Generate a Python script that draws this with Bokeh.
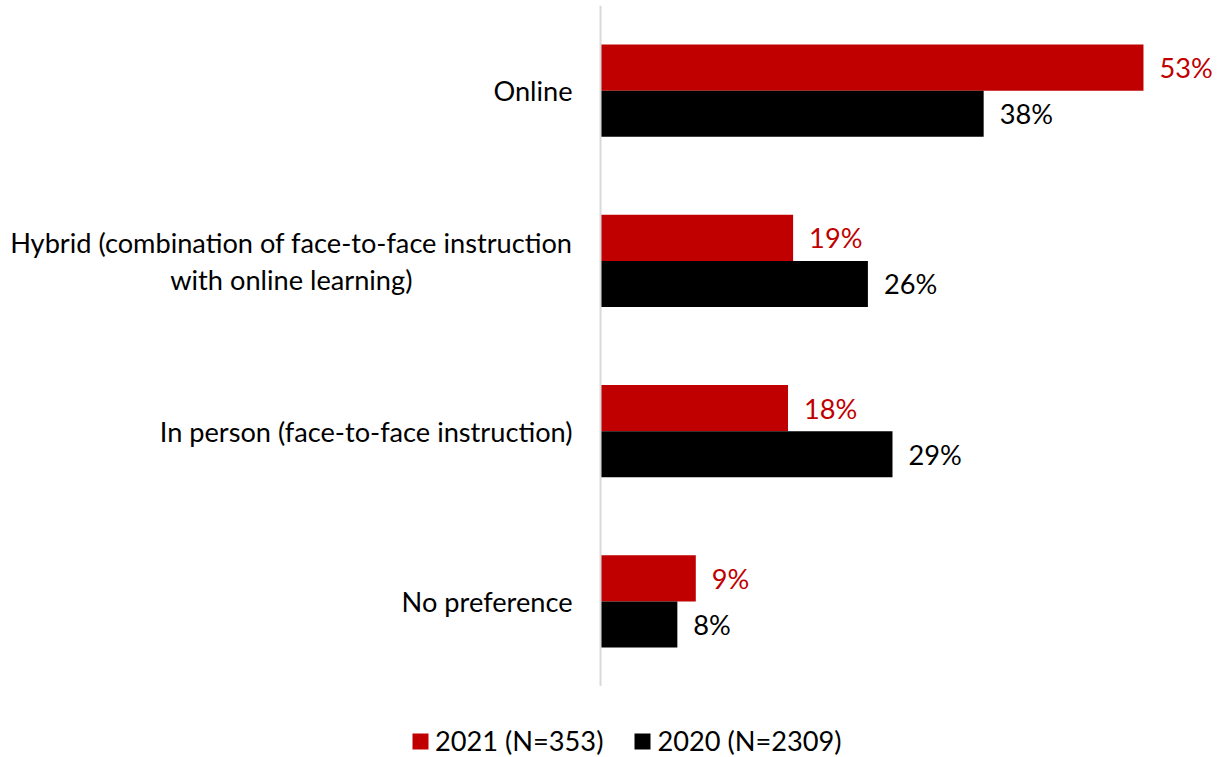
from bokeh.plotting import figure
from bokeh.layouts import column
from bokeh.models import ColumnDataSource, FactorRange, Range1d, Legend, LegendItem, Span
from bokeh.transform import dodge
from bokeh.core.properties import value
from bokeh.embed import file_html
from bokeh.resources import INLINE

# ---- data ----
NBSP = "\u00a0"
categories = ["Online",
              "Hybrid (combination of face-to-face instruction\nwith online learning)" + NBSP * 23,
              "In person (face-to-face instruction)",
              "No preference"]
values_2021 = [53.0, 18.8, 18.3, 9.3]
values_2020 = [37.4, 26.1, 28.5, 7.5]
labels_2021 = ["53%", "19%", "18%", "9%"]
labels_2020 = ["38%", "26%", "29%", "8%"]
series_names = ["2021 (N=353)", "2020 (N=2309)"]

RED = "#C00000"
BLACK = "#000000"
FONT = "Lato"
FS = "27.2px"

src = ColumnDataSource(dict(cat=categories, v21=values_2021, v20=values_2020,
                            l21=labels_2021, l20=labels_2020,
                            zero=[0] * len(categories)))

p = figure(width=1215, height=686, output_backend="svg", toolbar_location=None,
           y_range=FactorRange(*categories[::-1], range_padding=0),
           x_range=Range1d(-58.57, 60.03),
           min_border_left=0, min_border_right=0, min_border_top=5, min_border_bottom=0)
p.outline_line_color = None
p.grid.visible = False
p.axis.visible = False
p.background_fill_color = "white"
p.border_fill_color = "white"

# vertical axis line at 0
p.add_layout(Span(location=0, dimension="height", line_color="#d9d9d9", line_width=2))

# category labels
p.text(x="zero", y="cat", text="cat", source=src, x_offset=-28,
       text_align="right", text_baseline="middle", text_line_height=1.13,
       text_font=value(FONT), text_font_size=FS, text_color="#000000")

H = 0.2714
OFF = H / 2
r21 = p.hbar(y=dodge("cat", OFF, range=p.y_range), right="v21", left=0, height=H,
             source=src, fill_color=RED, line_color=None)
r20 = p.hbar(y=dodge("cat", -OFF, range=p.y_range), right="v20", left=0, height=H,
             source=src, fill_color=BLACK, line_color=None)

p.text(x="v21", y=dodge("cat", OFF, range=p.y_range), text="l21", source=src,
       x_offset=16, text_align="left", text_baseline="middle",
       text_font=value(FONT), text_font_size=FS, text_color=RED)
p.text(x="v20", y=dodge("cat", -OFF, range=p.y_range), text="l20", source=src,
       x_offset=16, text_align="left", text_baseline="middle",
       text_font=value(FONT), text_font_size=FS, text_color=BLACK)

# ---- legend strip below the chart ----
pl = figure(width=1215, height=71, output_backend="svg", toolbar_location=None,
            x_range=Range1d(0, 1), y_range=FactorRange(*categories[::-1]),
            min_border_left=0, min_border_right=0, min_border_top=0, min_border_bottom=0)
pl.axis.visible = False
pl.grid.visible = False
pl.outline_line_color = None
l21 = pl.hbar(y="cat", right="v21", height=0.5, source=src,
              fill_color=RED, line_color=None, visible=False)
l20 = pl.hbar(y="cat", right="v20", height=0.5, source=src,
              fill_color=BLACK, line_color=None, visible=False)

legend = Legend(items=[LegendItem(label=series_names[0], renderers=[l21]),
                       LegendItem(label=series_names[1], renderers=[l20])],
                orientation="horizontal", location=(410, 0),
                glyph_width=20, glyph_height=20, label_standoff=5, spacing=29,
                padding=0, margin=0, border_line_color=None,
                background_fill_alpha=0, inactive_fill_alpha=0,
                label_text_font=FONT, label_text_font_size=FS, label_text_color="#000000")
pl.add_layout(legend, "center")

open("out.html", "w").write(file_html(column(p, pl), INLINE))
